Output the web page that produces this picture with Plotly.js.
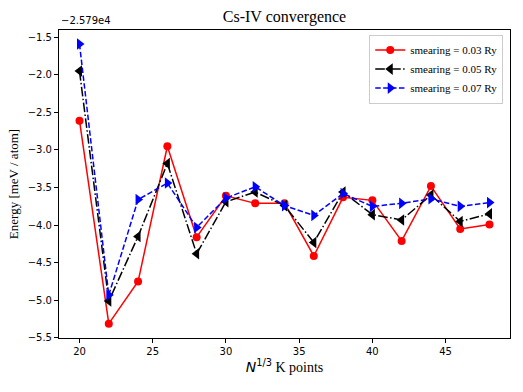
<!DOCTYPE html>
<html>
<head>
<meta charset="utf-8">
<script src="https://cdn.plot.ly/plotly-3.0.1.min.js"></script>
<style>
  html, body { margin: 0; padding: 0; background: #fff; }
  #chart { width: 523px; height: 392px; }
</style>
</head>
<body>
<div id="chart"></div>
<script>
// N^(1/3) k-point grid sizes
var kpoints = [20, 22, 24, 26, 28, 30, 32, 34, 36, 38, 40, 42, 44, 46, 48];

// energies relative to the -2.579e4 offset
var smear003 = [-2.61, -5.31, -4.75, -2.95, -4.16, -3.61, -3.71, -3.71, -4.41, -3.63, -3.67, -4.21, -3.48, -4.05, -3.99];
var smear005 = [-1.95, -5.01, -4.15, -3.18, -4.38, -3.69, -3.56, -3.74, -4.23, -3.56, -3.86, -3.93, -3.60, -3.95, -3.85];
var smear007 = [-1.59, -4.93, -3.66, -3.44, -4.03, -3.64, -3.49, -3.74, -3.87, -3.58, -3.75, -3.71, -3.65, -3.75, -3.70];

var offsetLabel = "\u22122.579e4";

var serif = "Liberation Serif, Times New Roman, serif";
var sans = "DejaVu Sans, sans-serif";

var trace1 = {
    x: kpoints,
    y: smear003,
    type: 'scatter',
    mode: 'lines+markers',
    name: "smearing = 0.03 Ry",
    line: { color: 'red', width: 1.5, dash: 'solid' },
    marker: { color: 'red', symbol: 'circle', size: 8 }
};

var trace2 = {
    x: kpoints,
    y: smear005,
    type: 'scatter',
    mode: 'lines+markers',
    name: "smearing = 0.05 Ry",
    line: { color: 'black', width: 1.5, dash: '9.6px,2.4px,1.5px,2.4px' },
    marker: { color: 'black', symbol: 'triangle-left', size: 10 }
};

var trace3 = {
    x: kpoints,
    y: smear007,
    type: 'scatter',
    mode: 'lines+markers',
    name: "smearing = 0.07 Ry",
    line: { color: 'blue', width: 1.5, dash: '5.5px,2.4px' },
    marker: { color: 'blue', symbol: 'triangle-right', size: 10 }
};

var layout = {
    width: 523,
    height: 392,
    paper_bgcolor: 'white',
    plot_bgcolor: 'white',
    margin: { l: 59, r: 13, t: 30, b: 54 },
    title: {
        text: "Cs-IV convergence",
        font: { family: serif, size: 16, color: 'black' },
        x: 0.544, xanchor: 'center',
        y: 0.957, yanchor: 'middle'
    },
    xaxis: {
        range: [18.6, 49.4],
        tickvals: [20, 25, 30, 35, 40, 45],
        ticks: 'outside', ticklen: 4, tickcolor: 'black',
        showline: true, mirror: true, linecolor: 'black', linewidth: 1,
        showgrid: false, zeroline: false,
        tickfont: { family: sans, size: 10, color: 'black' },
        title: {
            text: "<span style='font-family:DejaVu Sans'><i>N</i><sup>1/3</sup></span> K points",
            font: { family: serif, size: 14, color: 'black' },
            standoff: 6
        }
    },
    yaxis: {
        range: [-5.501, -1.404],
        dtick: 0.5,
        tick0: -5.5,
        tickformat: '.1f',
        ticks: 'outside', ticklen: 4, tickcolor: 'black',
        showline: true, mirror: true, linecolor: 'black', linewidth: 1,
        showgrid: false, zeroline: false,
        tickfont: { family: sans, size: 10, color: 'black' },
        title: {
            text: "Energy [meV / atom]",
            font: { family: serif, size: 13, color: 'black' },
            standoff: 6
        }
    },
    legend: {
        x: 0.985, xanchor: 'right',
        y: 0.985, yanchor: 'top',
        bgcolor: 'rgba(255,255,255,0.8)',
        bordercolor: '#cccccc', borderwidth: 1,
        font: { family: serif, size: 11, color: 'black' },
        tracegroupgap: 0
    },
    annotations: [{
        text: offsetLabel,
        xref: 'paper', yref: 'paper',
        x: 0, y: 1.005,
        xanchor: 'left', yanchor: 'bottom',
        showarrow: false,
        font: { family: sans, size: 10, color: 'black' }
    }],
    showlegend: true
};

Plotly.newPlot('chart', [trace1, trace2, trace3], layout, { displayModeBar: false, staticPlot: true });
</script>
</body>
</html>
